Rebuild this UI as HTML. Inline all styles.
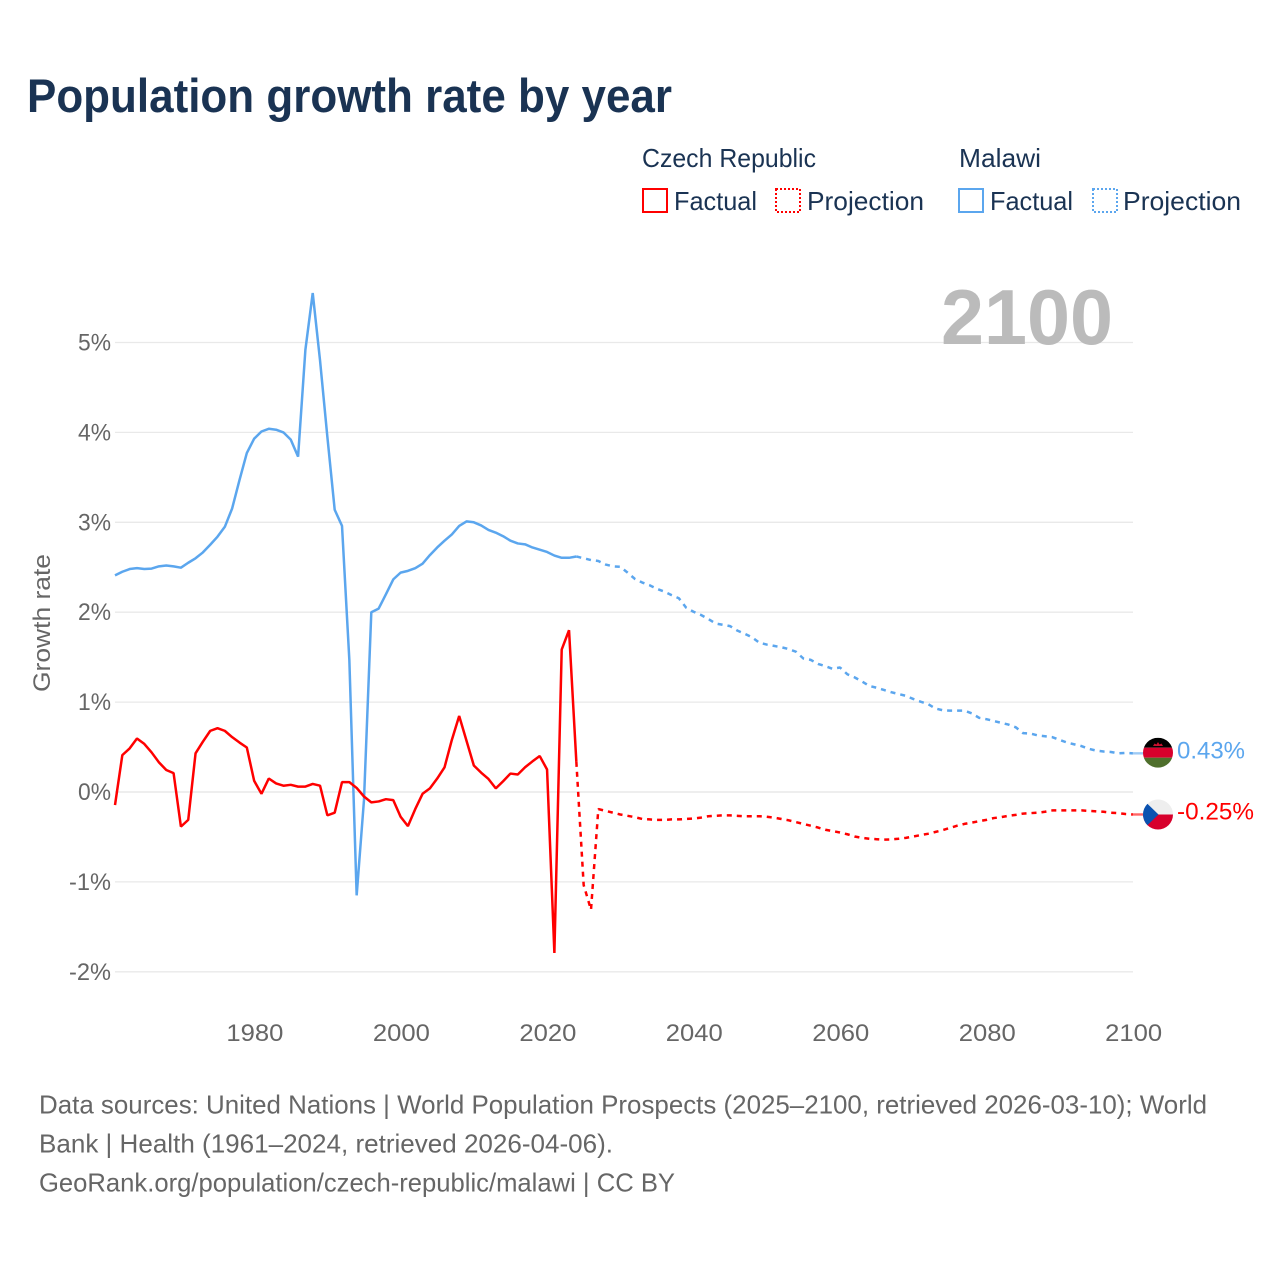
<!DOCTYPE html>
<html lang="en">
<head>
<meta charset="utf-8">
<title>Population growth rate by year</title>
<style>
  html, body { margin: 0; padding: 0; background: #ffffff; }
  body { width: 1280px; height: 1280px; overflow: hidden; }
  svg { display: block; font-family: "Liberation Sans", sans-serif; }
  .legend { font-size: 26px; fill: #1a3353; }
  .foot { font-size: 26px; fill: #666666; }
  .tick { font-size: 24.5px; fill: #666666; }
</style>
</head>
<body>
<svg id="chart" width="1280" height="1280" viewBox="0 0 1280 1280" xmlns="http://www.w3.org/2000/svg">
  <text x="27" y="112" font-size="47" font-weight="700" fill="#1a3353" textLength="645" lengthAdjust="spacingAndGlyphs">Population growth rate by year</text>

  <g>
    <text class="legend" x="642" y="167" textLength="174" lengthAdjust="spacingAndGlyphs">Czech Republic</text>
    <text class="legend" x="959" y="167" textLength="82" lengthAdjust="spacingAndGlyphs">Malawi</text>
    <rect x="643" y="189" width="24" height="23" fill="none" stroke="#ff0000" stroke-width="2"/>
    <text class="legend" x="674" y="210" textLength="83" lengthAdjust="spacingAndGlyphs">Factual</text>
    <rect x="776" y="189" width="24" height="23" fill="none" stroke="#ff0000" stroke-width="2" stroke-dasharray="2 2"/>
    <text class="legend" x="807" y="210" textLength="117" lengthAdjust="spacingAndGlyphs">Projection</text>
    <rect x="959" y="189" width="24" height="23" fill="none" stroke="#5ba6ee" stroke-width="2"/>
    <text class="legend" x="990" y="210" textLength="83" lengthAdjust="spacingAndGlyphs">Factual</text>
    <rect x="1093" y="189" width="24" height="23" fill="none" stroke="#5ba6ee" stroke-width="2" stroke-dasharray="2 2"/>
    <text class="legend" x="1123" y="210" textLength="118" lengthAdjust="spacingAndGlyphs">Projection</text>
  </g>

  <g id="grid"></g>
  <g id="yticks"></g>
  <g id="xticks"></g>

  <text transform="translate(50,623) rotate(-90)" text-anchor="middle" font-size="24.5" fill="#666666" textLength="138" lengthAdjust="spacingAndGlyphs">Growth rate</text>

  <text x="941" y="344" font-size="78" font-weight="700" fill="#bbbbbb" textLength="172" lengthAdjust="spacingAndGlyphs">2100</text>

  <g id="series"></g>

  <g id="flag-malawi">
    <clipPath id="clip-mw"><circle cx="1158" cy="752.7" r="15"/></clipPath>
    <g clip-path="url(#clip-mw)">
      <rect x="1143" y="737.7" width="30" height="10" fill="#000000"/>
      <rect x="1143" y="747.7" width="30" height="10" fill="#d8002c"/>
      <rect x="1143" y="757.7" width="30" height="10" fill="#4f6f2c"/>
      <path d="M1153 746 L1154.5 743.5 L1156.5 744.5 L1158 742 L1159.5 744.5 L1161.5 743.5 L1163 746 Z" fill="#c8102e"/>
    </g>
  </g>
  <g id="flag-czech">
    <clipPath id="clip-cz"><circle cx="1158" cy="814.5" r="15"/></clipPath>
    <g clip-path="url(#clip-cz)">
      <rect x="1143" y="799.5" width="30" height="15" fill="#eeeeee"/>
      <rect x="1143" y="814.5" width="30" height="15" fill="#d7002c"/>
      <path d="M1143 799.5 L1158.5 814.5 L1143 829.5 Z" fill="#0a52b0"/>
    </g>
  </g>

  <text x="1177" y="758.5" font-size="24.5" fill="#5ba6ee" textLength="68" lengthAdjust="spacingAndGlyphs">0.43%</text>
  <text x="1177" y="819.5" font-size="24.5" fill="#ff0000" textLength="77" lengthAdjust="spacingAndGlyphs">-0.25%</text>

  <g>
    <text class="foot" x="39" y="1113.5" textLength="1168" lengthAdjust="spacingAndGlyphs">Data sources: United Nations | World Population Prospects (2025–2100, retrieved 2026-03-10); World</text>
    <text class="foot" x="39" y="1152.5" textLength="574" lengthAdjust="spacingAndGlyphs">Bank | Health (1961–2024, retrieved 2026-04-06).</text>
    <text class="foot" x="39" y="1191.5" textLength="636" lengthAdjust="spacingAndGlyphs">GeoRank.org/population/czech-republic/malawi | CC BY</text>
  </g>
</svg>

<script>
const yTickValues = [5, 4, 3, 2, 1, 0, -1, -2];
const yTickLabels = ["5%", "4%", "3%", "2%", "1%", "0%", "-1%", "-2%"];
const xTickYears = [1980, 2000, 2020, 2040, 2060, 2080, 2100];
const xTickLabels = ["1980", "2000", "2020", "2040", "2060", "2080", "2100"];

const factualStartYear = 1961;
const projectionStartYear = 2024;

const czechFactual = [-0.145,0.41,0.485,0.595,0.535,0.44,0.33,0.245,0.21,-0.385,-0.31,0.43,0.56,0.68,0.71,0.68,0.61,0.55,0.495,0.125,-0.02,0.15,0.095,0.07,0.08,0.06,0.06,0.09,0.07,-0.26,-0.23,0.11,0.11,0.045,-0.05,-0.115,-0.105,-0.08,-0.09,-0.275,-0.38,-0.19,-0.02,0.04,0.15,0.275,0.58,0.845,0.57,0.295,0.215,0.145,0.04,0.12,0.205,0.195,0.275,0.34,0.40,0.25,-1.79,1.585,1.80,0.335];

const czechProjection = [0.335,-1.035,-1.31,-0.19,-0.21,-0.23,-0.25,-0.265,-0.28,-0.30,-0.305,-0.31,-0.31,-0.305,-0.305,-0.30,-0.295,-0.285,-0.27,-0.265,-0.26,-0.26,-0.265,-0.27,-0.27,-0.27,-0.275,-0.285,-0.30,-0.315,-0.335,-0.355,-0.375,-0.395,-0.42,-0.435,-0.45,-0.47,-0.495,-0.51,-0.52,-0.525,-0.53,-0.527,-0.52,-0.51,-0.495,-0.48,-0.465,-0.445,-0.425,-0.40,-0.375,-0.355,-0.34,-0.325,-0.31,-0.29,-0.28,-0.265,-0.255,-0.24,-0.235,-0.23,-0.22,-0.205,-0.205,-0.205,-0.205,-0.205,-0.21,-0.215,-0.22,-0.23,-0.235,-0.245,-0.25];

const malawiFactual = [2.41,2.45,2.48,2.49,2.48,2.485,2.51,2.52,2.51,2.495,2.55,2.60,2.665,2.75,2.84,2.95,3.155,3.47,3.77,3.93,4.01,4.04,4.03,4.00,3.92,3.73,4.92,5.55,4.80,3.95,3.14,2.96,1.47,-1.15,-0.09,2.0,2.04,2.20,2.365,2.44,2.46,2.49,2.54,2.635,2.72,2.795,2.865,2.96,3.01,3.00,2.965,2.915,2.885,2.845,2.795,2.765,2.755,2.72,2.695,2.67,2.63,2.605,2.605,2.62];

const malawiProjection = [2.62,2.6,2.58,2.57,2.53,2.51,2.505,2.44,2.37,2.33,2.30,2.26,2.23,2.19,2.155,2.05,2.005,1.97,1.925,1.875,1.86,1.845,1.795,1.76,1.72,1.66,1.64,1.625,1.61,1.59,1.56,1.485,1.47,1.425,1.40,1.37,1.385,1.31,1.275,1.23,1.18,1.16,1.135,1.11,1.09,1.07,1.035,1.005,0.98,0.93,0.91,0.905,0.905,0.905,0.875,0.825,0.81,0.79,0.77,0.75,0.72,0.655,0.65,0.63,0.62,0.61,0.58,0.55,0.53,0.51,0.48,0.46,0.45,0.445,0.43,0.435,0.43];

const SVG_NS = "http://www.w3.org/2000/svg";
const xScale = function (year) { return 115 + (year - 1961) * 7.323; };
const yScale = function (value) { return 792 - value * 89.9; };

const gridGroup = document.getElementById("grid");
const yTickGroup = document.getElementById("yticks");
const xTickGroup = document.getElementById("xticks");
const seriesGroup = document.getElementById("series");

yTickValues.forEach(function (value, i) {
  const line = document.createElementNS(SVG_NS, "line");
  
  
  line.setAttribute("x1", 115);
  line.setAttribute("x2", 1133);
  line.setAttribute("y1", yScale(value));
  line.setAttribute("y2", yScale(value));
  line.setAttribute("stroke", "#e9e9e9");
  line.setAttribute("stroke-width", value === 0 ? 1.6 : 1.3);
  gridGroup.appendChild(line);

  const label = document.createElementNS(SVG_NS, "text");
  
  
  label.setAttribute("class", "tick");
  label.setAttribute("x", 111);
  label.setAttribute("y", yScale(value) + 8);
  label.setAttribute("text-anchor", "end");
  label.setAttribute("textLength", yTickLabels[i].length === 3 ? 42 : 33);
  label.setAttribute("lengthAdjust", "spacingAndGlyphs");
  label.textContent = yTickLabels[i];
  yTickGroup.appendChild(label);
});

xTickYears.forEach(function (year, i) {
  const label = document.createElementNS(SVG_NS, "text");
  
  
  label.setAttribute("class", "tick");
  label.setAttribute("x", xScale(year) + 0.8);
  label.setAttribute("y", 1041);
  label.setAttribute("text-anchor", "middle");
  label.setAttribute("textLength", 57);
  label.setAttribute("lengthAdjust", "spacingAndGlyphs");
  label.textContent = xTickLabels[i];
  xTickGroup.appendChild(label);
});

function linePath(values, startYear) {
  return values.map(function (value, i) {
    return (i === 0 ? "M" : "L") + xScale(startYear + i).toFixed(2) + " " + yScale(value).toFixed(2);
  }).join(" ");
}

function addConnector(values, color, name) {
  const lastValue = values[values.length - 1];
  const connector = document.createElementNS(SVG_NS, "line");
  
  
  connector.setAttribute("x1", xScale(2100));
  connector.setAttribute("x2", 1144);
  connector.setAttribute("y1", yScale(lastValue));
  connector.setAttribute("y2", yScale(lastValue));
  connector.setAttribute("stroke", color);
  connector.setAttribute("stroke-width", 2.4);
  connector.setAttribute("stroke-opacity", 0.6);
  seriesGroup.appendChild(connector);
}

function addSeries(values, startYear, color, dashed, name) {
  const path = document.createElementNS(SVG_NS, "path");
  
  
  path.setAttribute("d", linePath(values, startYear));
  path.setAttribute("fill", "none");
  path.setAttribute("stroke", color);
  path.setAttribute("stroke-width", 2.5);
  path.setAttribute("stroke-linejoin", "bevel");
  if (dashed) {
    path.setAttribute("stroke-dasharray", "5 5");
  }
  seriesGroup.appendChild(path);
}

addSeries(malawiFactual, factualStartYear, "#5ba6ee", false, "malawi-factual-line");
addSeries(malawiProjection, projectionStartYear, "#5ba6ee", true, "malawi-projection-line");
addConnector(malawiProjection, "#5ba6ee", "malawi-end-connector");
addSeries(czechFactual, factualStartYear, "#ff0000", false, "czech-factual-line");
addSeries(czechProjection, projectionStartYear, "#ff0000", true, "czech-projection-line");
addConnector(czechProjection, "#ff0000", "czech-end-connector");
</script>
</body>
</html>
